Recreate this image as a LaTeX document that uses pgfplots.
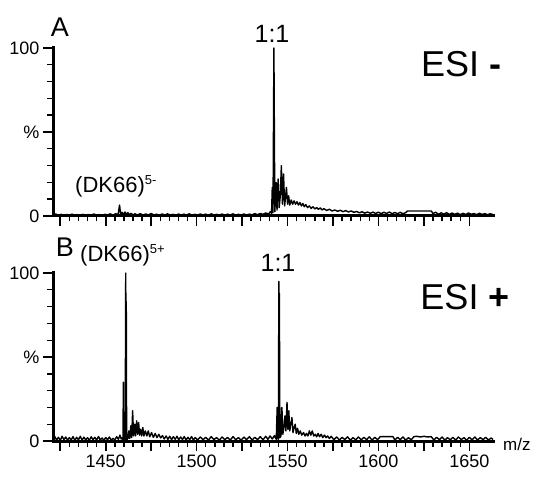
\documentclass[border=0pt]{standalone}
\usepackage{fontspec}
\setmainfont{Liberation Sans}
\usepackage{pgfplots}
\usepackage{pgfplotstable}
\pgfplotsset{compat=1.18}

% ESI- spectrum (relative intensity, %)
\pgfplotstableread{
mz int
1421 0.6
1422.5 1.2
1424 0.4
1425.5 1.0
1427 0.3
1428.5 0.9
1430 0.5
1431.5 1.1
1433 0.3
1434.5 0.8
1436 0.4
1437.5 1.0
1439 0.3
1440.5 0.9
1442 0.5
1443.5 1.2
1445 0.4
1446.5 0.9
1448 0.3
1449.5 1.0
1451 0.6
1452.5 1.3
1454 0.5
1455.5 1.4
1456.8 0.8
1457.6 6.5
1458.2 1.0
1459 2.2
1459.8 0.7
1460.6 2.4
1461.4 0.9
1462.2 2.0
1463 0.8
1464 1.6
1465 0.5
1466 1.3
1467.5 0.6
1469 1.4
1470.5 0.5
1472 1.2
1473.5 0.6
1475 1.5
1476.5 0.5
1478 1.1
1479.5 0.4
1481 1.2
1482.5 0.6
1484 1.3
1485.5 0.5
1487 1.0
1488.5 0.4
1490 1.2
1491.5 0.5
1493 1.1
1494.5 0.6
1496 1.3
1497.5 0.4
1499 1.0
1500.5 0.5
1502 1.2
1503.5 0.6
1505 1.1
1506.5 0.4
1508 1.3
1509.5 0.6
1511 1.0
1512.5 0.5
1514 1.2
1515.5 0.4
1517 1.1
1518.5 0.6
1520 1.3
1521.5 0.5
1523 1.0
1524.5 0.6
1526 1.2
1527.5 0.5
1529 1.1
1530.5 0.7
1532 1.4
1533.5 0.8
1535 1.5
1536.5 1.0
1538 1.8
1539.5 1.2
1540.6 2.6
1541.2 1.5
1541.6 17
1542.0 2.0
1542.5 100
1543.0 2.5
1543.7 20
1544.2 3.5
1544.8 22
1545.4 5
1546.0 12
1546.6 30
1547.2 7
1547.8 25
1548.4 6
1549.4 17
1550.0 7
1550.6 12
1551.2 6.5
1552 9.5
1552.8 7
1553.6 9
1554.4 7
1555.2 8.5
1556 6.5
1556.8 8
1557.6 6
1558.4 7.5
1559.2 5.5
1560 6.8
1561 5
1562 6
1563 4.5
1564 5.5
1565 4.2
1566 5
1567 4
1568 4.8
1569 3.6
1570 4.4
1571.5 3.3
1573 4.0
1574.5 3.0
1576 3.6
1577.5 2.8
1579 3.4
1580.5 2.6
1582 3.2
1583.5 2.4
1585 3.0
1586.5 2.2
1588 2.7
1589.5 1.9
1591 2.5
1592.5 1.7
1594 2.4
1595.5 1.6
1597 2.3
1598.5 1.5
1600 2.3
1601.5 1.4
1603 2.2
1604.5 1.5
1606 2.4
1607.5 1.3
1609 2.1
1610.5 1.4
1612 2.2
1613.5 1.3
1615 2.0
1616 3.0
1629 3.0
1630 1.5
1631.5 2.2
1633 1.0
1634.5 1.9
1636 1.1
1637.5 2.0
1639 0.9
1640.5 1.8
1642 1.0
1643.5 1.7
1645 0.8
1646.5 1.6
1648 0.9
1649.5 1.8
1651 1.0
1652.5 1.5
1654 0.8
1655.5 1.6
1657 0.9
1658.5 1.4
1660 0.8
1661.5 1.3
1663 0.9
}\esineg

% ESI+ spectrum (relative intensity, %)
\pgfplotstableread{
mz int
1421 1.0
1422 2.6
1423 0.6
1424 2.2
1425 0.4
1426 2.8
1427 0.8
1428 2.4
1429 0.5
1430 2.0
1431 0.6
1432 2.6
1433 0.4
1434 2.2
1435 0.7
1436 2.8
1437 0.5
1438 2.3
1439 0.6
1440 2.0
1441 0.4
1442 2.5
1443 0.8
1444 2.2
1445 0.5
1446 2.7
1447 0.6
1448 1.8
1449 0.4
1450 2.1
1451 0.7
1452 2.4
1453 0.5
1454 1.6
1455 0.6
1456 2.6
1457 1.0
1457.8 3.5
1458.5 1.2
1459.2 2.0
1459.5 0.5
1459.7 35
1459.9 0.5
1460.7 0.5
1461.0 100
1461.15 55
1461.3 83
1461.5 0.6
1462.2 1.5
1462.7 6
1463.2 1.5
1463.8 9
1464.3 2
1464.8 18
1465.3 3
1465.9 10
1466.4 3
1467.0 12
1467.5 4
1468.1 11
1468.6 3.5
1469.2 7
1469.8 3
1470.4 8
1471 3
1471.8 6
1472.6 3
1473.4 6
1474.2 2.5
1475.2 5
1476.2 2.2
1477.2 4.5
1478.2 2
1479.2 4
1480.2 1.8
1481.2 3.2
1482.2 1.2
1483.2 3
1484.2 1
1485.2 2.8
1486.2 0.8
1487.2 2.6
1488.2 1
1489.2 2.8
1490.2 0.7
1491.2 2.4
1492.2 0.9
1493.2 2.6
1494.2 0.6
1495.2 2.2
1496.2 0.8
1497.2 2.6
1498.2 0.6
1499.2 2.0
1500.5 0.6
1502 2.4
1503.5 0.8
1505 2.2
1506.5 0.5
1508 2.6
1509.5 0.9
1511 2.0
1512.5 0.5
1514 2.4
1515.5 0.7
1517 2.2
1518.5 0.5
1520 2.6
1521.5 0.8
1523 2.0
1524.5 0.5
1526 2.3
1527.5 0.8
1529 2.6
1530.5 0.6
1532 2.2
1533.5 0.8
1535 2.6
1536.5 0.7
1538 2.8
1539.2 1.0
1540.4 3.0
1541.6 1.2
1542.8 3.2
1543.8 1.0
1544.3 20
1544.8 1.0
1545.0 1.0
1545.2 95
1545.35 50
1545.5 88
1545.8 2
1546.4 3
1546.9 20
1547.4 4
1548.0 8
1548.6 15
1549.1 6
1549.7 23
1550.2 7
1550.7 18
1551.2 6
1551.8 10
1552.4 14
1553.0 5
1553.6 8
1554.2 10
1554.8 4.5
1555.5 7.5
1556.2 4
1557.0 6
1557.8 3.5
1558.8 5
1559.6 3
1560.4 4.5
1561.2 3
1562.0 6
1562.8 3.5
1563.6 6
1564.4 3
1565.2 4
1566.0 2.5
1566.8 4.5
1567.6 2.5
1568.5 4
1569.4 2
1570.3 3.5
1571.2 2
1572.0 3
1573.0 1.5
1574.0 2.8
1575.5 0.8
1577 2.4
1578.5 0.6
1580 2.2
1581.5 0.8
1583 2.5
1584.5 0.5
1586 2.0
1587.5 0.7
1589 2.4
1590.5 0.6
1592 2.2
1593.5 0.8
1595 2.5
1596.5 0.5
1598 2.2
1599.5 0.8
1601 2.6
1608 2.6
1609 0.6
1610.5 2.2
1612 0.8
1613.5 2.4
1615 0.5
1616.5 2.0
1618 0.7
1619.5 2.6
1621 2.8
1623 2.4
1625 2.8
1627 2.4
1629 2.6
1630.5 0.6
1632 2.2
1633.5 0.8
1635 2.4
1636.5 0.5
1638 2.0
1639.5 0.7
1641 2.2
1642.5 0.6
1644 2.4
1645.5 0.8
1647 2.0
1648.5 0.5
1650 2.2
1651.5 0.7
1653 2.4
1654.5 0.6
1656 2.0
1657.5 0.8
1659 2.2
1660.5 0.6
1662 1.8
1663 0.8
}\esipos

\pgfplotsset{
  msaxis/.style={
    scale only axis, width=440pt, height=168pt,
    xmin=1421, xmax=1663, ymin=0, ymax=100,
    axis lines*=left,
    x axis line style={line width=3pt, line cap=rect},
    y axis line style={line width=3pt, line cap=rect},
    tick align=outside,
    xtick={1425,1450,...,1650}, minor x tick num=4,
    ytick={0,50,100}, yticklabels={0,\%,100}, minor y tick num=4,
    major tick length=10pt, minor tick length=5.5pt,
    major tick style={line width=1.6pt, black},
    minor tick style={line width=1.4pt, black},
    tick label style={font=\fontsize{18}{18}\selectfont},
    /pgf/number format/assume math mode=true,
    clip=false,
  },
  spec/.style={black, line width=1.4pt, line join=round, no marks},
}

\begin{document}
\begin{tikzpicture}
\useasboundingbox (0pt,0pt) rectangle (537pt,476pt);

% panel A: negative ion mode
\begin{axis}[msaxis, at={(53pt,260pt)}, anchor=south west,
    xticklabels={}]
  \addplot[spec] table[x=mz, y=int] {\esineg};
\end{axis}

% panel B: positive ion mode
\begin{axis}[msaxis, at={(53pt,35pt)}, anchor=south west,
    xticklabels={,1450,,1500,,1550,,1600,,1650}]
  \addplot[spec] table[x=mz, y=int] {\esipos};
\end{axis}

% panel annotations
\node[anchor=base, inner sep=0, font=\fontsize{27}{27}\selectfont] at (60pt,439pt) {A};
\node[anchor=base, inner sep=0, font=\fontsize{25}{25}\selectfont] at (272pt,433pt) {1:1};
\node[anchor=base, inner sep=0, font=\fontsize{36}{36}\selectfont] at (461pt,399pt) {ESI \textbf{-}};
\node[anchor=base west, inner sep=0, font=\fontsize{22}{22}\selectfont] at (75pt,283pt)
  {(DK66)\raisebox{8pt}{\fontsize{13}{13}\selectfont 5-}};

\node[anchor=base, inner sep=0, font=\fontsize{27}{27}\selectfont] at (65pt,219pt) {B};
\node[anchor=base west, inner sep=0, font=\fontsize{22}{22}\selectfont] at (80pt,214pt)
  {(DK66)\raisebox{8pt}{\fontsize{13}{13}\selectfont 5+}};
\node[anchor=base, inner sep=0, font=\fontsize{25}{25}\selectfont] at (278pt,204pt) {1:1};
\node[anchor=base, inner sep=0, font=\fontsize{36}{36}\selectfont] at (465pt,166pt) {ESI \textbf{+}};
\node[anchor=base west, inner sep=0, font=\fontsize{17}{17}\selectfont] at (503pt,26pt) {m/z};
\end{tikzpicture}
\end{document}
